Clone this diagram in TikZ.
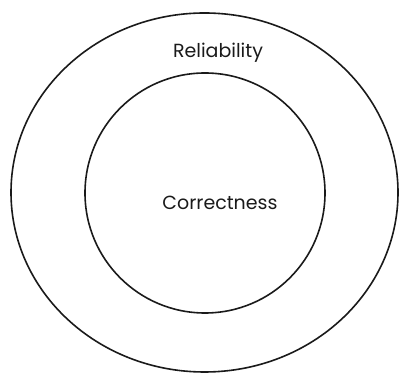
\documentclass[tikz,border=0pt]{standalone}
\usepackage{fontspec}
\setmainfont{Poppins}
\usepackage{tikz}
\usetikzlibrary{positioning}
\definecolor{mInk}{HTML}{1A1A1A}

\begin{document}
\begin{tikzpicture}[x=1pt, y=1pt, ring/.style={draw=mInk, line width=1.6pt},
    lbl/.style={text=mInk, font=\fontsize{19}{22}\selectfont}]
    \useasboundingbox (0,0) rectangle (399,374);
    % outer ring and inner ring
    \draw[ring] (204.5,181.5) ellipse [x radius=193.5, y radius=179.5];
    \draw[ring] (205,181) circle [radius=120];
    \node[lbl] (reliability) at (218,321) {Reliability};
    \node[lbl] (correctness) at (220,171) {Correctness};
  \end{tikzpicture}
\end{document}
